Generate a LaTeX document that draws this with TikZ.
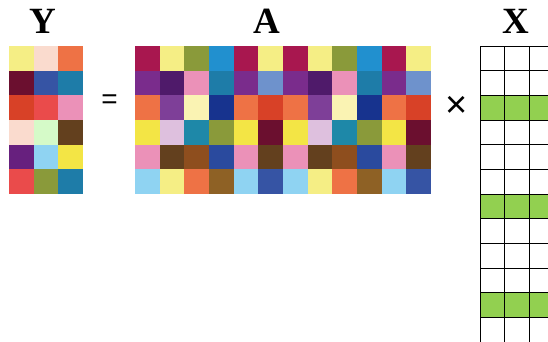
\documentclass[tikz,border=0pt]{standalone}
\usepackage{fontspec}
\setmainfont{Liberation Serif}
\setsansfont{Liberation Sans}
\definecolor{cYel}{HTML}{F5EE85}
\definecolor{cPeach}{HTML}{FADBCE}
\definecolor{cOrange}{HTML}{EE7245}
\definecolor{cDMaroon}{HTML}{6B0F2F}
\definecolor{cBlue}{HTML}{3654A4}
\definecolor{cTeal}{HTML}{1E7CA8}
\definecolor{cRedOr}{HTML}{D84127}
\definecolor{cRed}{HTML}{EA4B4B}
\definecolor{cPink}{HTML}{EB91B8}
\definecolor{cLGreen}{HTML}{D5FAC8}
\definecolor{cBrown}{HTML}{63401E}
\definecolor{cPurple}{HTML}{67207E}
\definecolor{cLBlue}{HTML}{8FD3F2}
\definecolor{cYellow}{HTML}{F3E545}
\definecolor{cOlive}{HTML}{8A9A3A}
\definecolor{cMaroon}{HTML}{A8174F}
\definecolor{cSky}{HTML}{2190CF}
\definecolor{cPurA}{HTML}{7A2C8C}
\definecolor{cDPur}{HTML}{4F1A6A}
\definecolor{cSteel}{HTML}{6E92CC}
\definecolor{cPurB}{HTML}{7E3F98}
\definecolor{cCream}{HTML}{FAF3B3}
\definecolor{cNavy}{HTML}{17338E}
\definecolor{cLilac}{HTML}{DEC0DE}
\definecolor{cTealB}{HTML}{1E88A8}
\definecolor{cBrownB}{HTML}{8E4E1E}
\definecolor{cBlueB}{HTML}{2A4A9E}
\definecolor{cOchre}{HTML}{8E6125}
\definecolor{cGreen}{HTML}{92D050}
\tikzset{
  title/.style={font=\fontsize{37}{37}\selectfont\bfseries, inner sep=0pt, anchor=base},
  oper/.style={font=\sffamily\fontsize{28}{28}\selectfont, inner sep=0pt},
}
\begin{document}
\begin{tikzpicture}[x=1pt,y=-1pt]
\useasboundingbox (0,0) rectangle (548,342);
\fill[white] (0,0) rectangle (548,342);
\def\cs{24.67}
% Y matrix
\foreach \row [count=\r from 0] in {
  {cYel,cPeach,cOrange},
  {cDMaroon,cBlue,cTeal},
  {cRedOr,cRed,cPink},
  {cPeach,cLGreen,cBrown},
  {cPurple,cLBlue,cYellow},
  {cRed,cOlive,cTeal}}{
  \foreach \c [count=\k from 0] in \row {
    \fill[\c] (9+\k*\cs,46+\r*\cs) rectangle ++(\cs,\cs);
  }
}
% A matrix
\foreach \row [count=\r from 0] in {
  {cMaroon,cYel,cOlive,cSky,cMaroon,cYel},
  {cPurA,cDPur,cPink,cTeal,cPurA,cSteel},
  {cOrange,cPurB,cCream,cNavy,cOrange,cRedOr},
  {cYellow,cLilac,cTealB,cOlive,cYellow,cDMaroon},
  {cPink,cBrown,cBrownB,cBlueB,cPink,cBrown},
  {cLBlue,cYel,cOrange,cOchre,cLBlue,cBlue}}{
  \foreach \c [count=\k from 0] in \row {
    \fill[\c] (135+\k*\cs,46+\r*\cs) rectangle ++(\cs,\cs);
    \fill[\c] (135+\k*\cs+6*\cs,46+\r*\cs) rectangle ++(\cs,\cs);
  }
}
% X matrix
\begin{scope}
\clip (0,0) rectangle (548,342);
\foreach \r in {2,6,10}{
  \fill[cGreen] (480,46+\r*\cs) rectangle ++(3*\cs,\cs);
}
\foreach \r in {0,...,11}{
  \foreach \k in {0,1,2}{
    \draw[black, line width=0.8pt] (480+\k*\cs,46+\r*\cs) rectangle ++(\cs,\cs);
  }
}
\end{scope}
% labels
\node[title] (lY) at (43,34) {Y};
\node[title] (lA) at (267,34) {A};
\node[title] (lX) at (516,34) {X};
\node[oper] (eq) at (109.5,102) {=};
\node[oper, font=\sffamily\fontsize{38}{38}\selectfont] (times) at (457,107) {×};
\end{tikzpicture}
\end{document}
